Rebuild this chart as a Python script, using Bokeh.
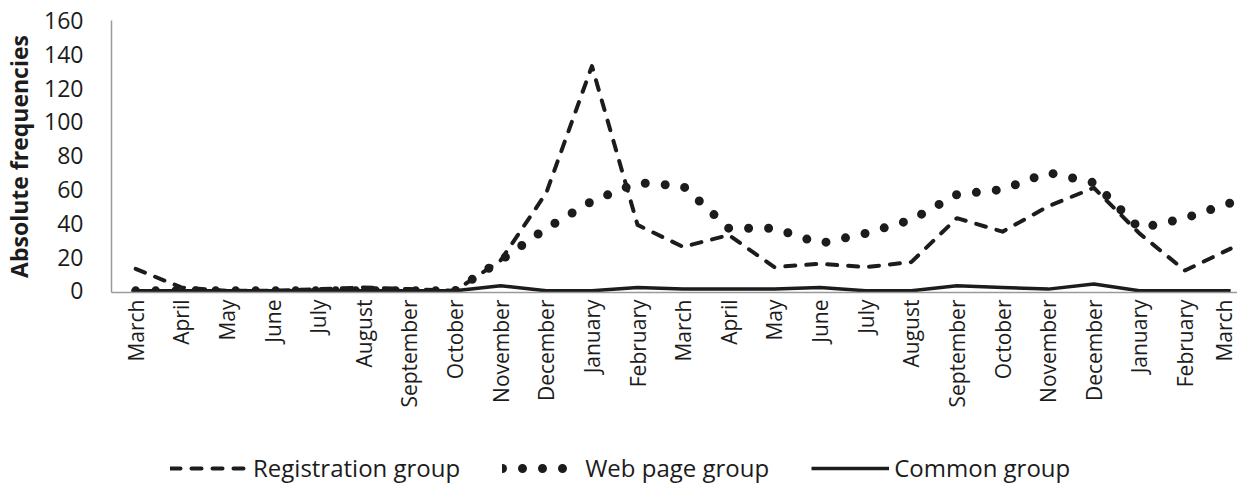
import math
from bokeh.plotting import figure
from bokeh.layouts import column
from bokeh.models import Range1d, FixedTicker, Legend, LegendItem
from bokeh.embed import file_html
from bokeh.resources import INLINE

months = ["March", "April", "May", "June", "July", "August", "September", "October",
          "November", "December", "January", "February", "March", "April", "May", "June",
          "July", "August", "September", "October", "November", "December", "January",
          "February", "March"]
registration = [13, 2, 0, 0, 1, 2, 1, 0, 18, 58, 133, 39, 26, 33, 14, 16, 14, 17, 43, 35, 50, 61, 34, 12, 25]
webpage = [0, 0, 0, 0, 0, 0, 0, 0, 18, 37, 53, 64, 62, 37, 37, 28, 34, 42, 57, 60, 70, 64, 37, 43, 52]
common = [0, 0, 0, 0, 0, 0, 0, 0, 3, 0, 0, 2, 1, 1, 1, 2, 0, 0, 3, 2, 1, 4, 0, 0, 0]
y_ticks = [0, 20, 40, 60, 80, 100, 120, 140, 160]
series_names = ["Registration group", "Web page group", "Common group"]

x = list(range(len(months)))
FONT = "Open Sans"
INK = "#1c1c1c"
AXIS = "#9a9a9a"
styles = [dict(line_width=4, line_dash="10 11", line_cap="round", line_join="round"),
          dict(line_width=9, line_dash="0 20", line_cap="round", line_join="round"),
          dict(line_width=3.5, line_join="round")]

p = figure(frame_width=1126, frame_height=272, output_backend="svg", toolbar_location=None,
           x_range=Range1d(-0.53, 24.15), y_range=Range1d(-1, 160),
           min_border_left=111, min_border_right=0, min_border_top=20, min_border_bottom=0)
p.outline_line_color = None
p.grid.visible = False
p.background_fill_color = "white"
p.border_fill_color = "white"

for ys, st in zip([registration, webpage, common], styles):
    p.line(x, ys, line_color=INK, **st)

xa = p.xaxis[0]
xa.ticker = FixedTicker(ticks=x)
xa.major_label_overrides = {i: m for i, m in enumerate(months)}
xa.major_label_orientation = math.pi / 2
xa.major_tick_line_color = None
xa.minor_tick_line_color = None
xa.major_tick_out = 0
xa.axis_line_color = AXIS
xa.axis_line_width = 1.5
xa.major_label_text_font = FONT
xa.major_label_text_font_size = "21px"
xa.major_label_text_color = INK
xa.major_label_standoff = 7

ya = p.yaxis[0]
ya.ticker = FixedTicker(ticks=y_ticks)
ya.major_tick_line_color = None
ya.minor_tick_line_color = None
ya.major_tick_out = 0
ya.axis_line_color = AXIS
ya.axis_line_width = 1.5
ya.major_label_text_font = FONT
ya.major_label_text_font_size = "23px"
ya.major_label_text_color = INK
ya.major_label_standoff = 28
ya.axis_label = "Absolute frequencies"
ya.axis_label_text_font = FONT
ya.axis_label_text_font_size = "23px"
ya.axis_label_text_font_style = "bold"
ya.axis_label_text_color = INK
ya.axis_label_standoff = 6

# legend strip below the chart
q = figure(width=1237, height=78, output_backend="svg", toolbar_location=None,
           min_border=0, x_range=Range1d(0, 1), y_range=Range1d(0, 1))
q.outline_line_color = None
q.grid.visible = False
q.axis.visible = False
items = []
nan = float("nan")
for name, st in zip(series_names, styles):
    r = q.line([0, 1], [nan, nan], line_color=INK, **st)
    items.append(LegendItem(label=name, renderers=[r]))
legend = Legend(items=items, orientation="horizontal", location=(59, 4),
                glyph_width=78, glyph_height=20, label_height=20,
                label_text_font=FONT, label_text_font_size="24px", label_text_color=INK,
                spacing=42, label_standoff=5, border_line_color=None,
                background_fill_alpha=0, margin=0, padding=0)
q.add_layout(legend, "center")

layout = column(p, q, spacing=0)
open("out.html", "w").write(file_html(layout, INLINE))
